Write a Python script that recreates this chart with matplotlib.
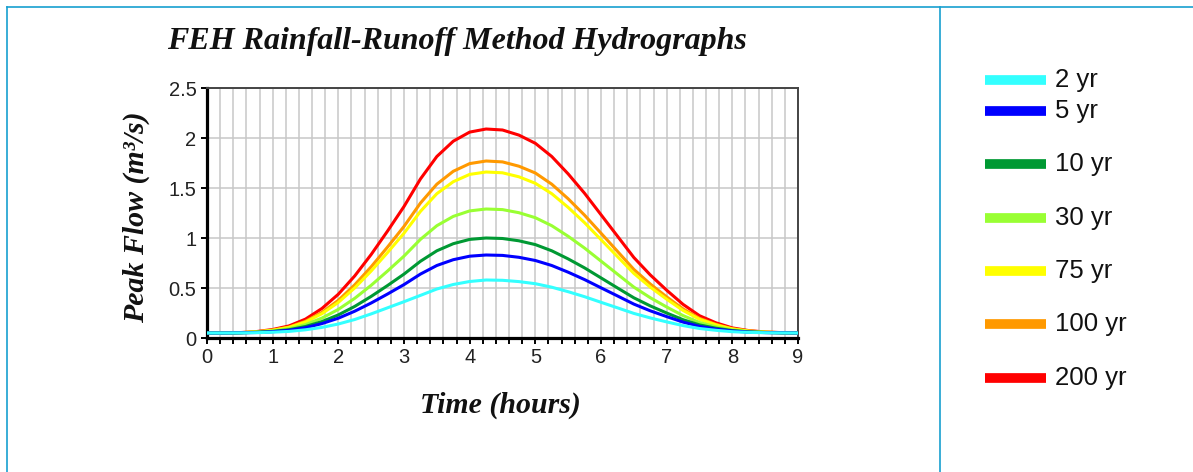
import matplotlib
matplotlib.use("Agg")
from matplotlib import pyplot as plt
from matplotlib.lines import Line2D
from matplotlib.ticker import MultipleLocator

# hours, every quarter hour
hours = [0, 0.25, 0.5, 0.75, 1, 1.25, 1.5, 1.75, 2, 2.25, 2.5, 2.75, 3, 3.25, 3.5, 3.75,
         4, 4.25, 4.5, 4.75, 5, 5.25, 5.5, 5.75, 6, 6.25, 6.5, 6.75, 7, 7.25, 7.5, 7.75,
         8, 8.25, 8.5, 8.75, 9]

flow_2yr = [0.05, 0.05, 0.051, 0.053, 0.058, 0.066, 0.082, 0.106, 0.140, 0.185, 0.241, 0.302,
            0.363, 0.426, 0.490, 0.535, 0.565, 0.580, 0.577, 0.564, 0.543, 0.508, 0.463, 0.413,
            0.357, 0.302, 0.246, 0.201, 0.161, 0.124, 0.095, 0.077, 0.063, 0.056, 0.053, 0.051, 0.05]
flow_5yr = [0.05, 0.05, 0.052, 0.055, 0.063, 0.077, 0.103, 0.144, 0.198, 0.268, 0.350, 0.440,
            0.534, 0.639, 0.725, 0.783, 0.818, 0.830, 0.826, 0.807, 0.775, 0.725, 0.658, 0.584,
            0.502, 0.421, 0.339, 0.272, 0.214, 0.159, 0.116, 0.089, 0.070, 0.059, 0.054, 0.052, 0.05]
flow_10yr = [0.05, 0.05, 0.052, 0.057, 0.066, 0.083, 0.115, 0.164, 0.231, 0.316, 0.416, 0.525,
             0.639, 0.767, 0.872, 0.943, 0.986, 1.000, 0.995, 0.972, 0.934, 0.872, 0.791, 0.701,
             0.601, 0.501, 0.402, 0.321, 0.250, 0.183, 0.131, 0.098, 0.074, 0.061, 0.055, 0.052, 0.05]
flow_30yr = [0.05, 0.05, 0.052, 0.059, 0.071, 0.093, 0.134, 0.199, 0.286, 0.397, 0.527, 0.670,
             0.819, 0.986, 1.123, 1.216, 1.271, 1.290, 1.284, 1.253, 1.203, 1.123, 1.017, 0.899,
             0.769, 0.639, 0.509, 0.403, 0.310, 0.224, 0.155, 0.112, 0.081, 0.065, 0.056, 0.052, 0.05]
flow_75yr = [0.05, 0.05, 0.053, 0.061, 0.077, 0.106, 0.159, 0.243, 0.356, 0.501, 0.670, 0.855,
             1.048, 1.266, 1.443, 1.563, 1.636, 1.660, 1.652, 1.612, 1.547, 1.443, 1.306, 1.153,
             0.984, 0.815, 0.646, 0.509, 0.388, 0.275, 0.187, 0.131, 0.090, 0.069, 0.058, 0.053, 0.05]
flow_100yr = [0.05, 0.05, 0.053, 0.062, 0.079, 0.110, 0.167, 0.256, 0.377, 0.532, 0.712, 0.910,
              1.116, 1.349, 1.538, 1.667, 1.744, 1.770, 1.761, 1.718, 1.650, 1.538, 1.392, 1.228,
              1.048, 0.867, 0.686, 0.540, 0.411, 0.291, 0.196, 0.136, 0.093, 0.071, 0.059, 0.053, 0.05]
flow_200yr = [0.05, 0.05, 0.054, 0.064, 0.085, 0.121, 0.189, 0.295, 0.438, 0.621, 0.835, 1.070,
              1.315, 1.590, 1.815, 1.968, 2.059, 2.090, 2.080, 2.029, 1.947, 1.815, 1.641, 1.447,
              1.233, 1.019, 0.805, 0.631, 0.478, 0.336, 0.223, 0.152, 0.101, 0.074, 0.060, 0.054, 0.05]

labels = ["2 yr", "5 yr", "10 yr", "30 yr", "75 yr", "100 yr", "200 yr"]
colors = ["#33ffff", "#0000ff", "#009933", "#99ff33", "#ffff00", "#ff9900", "#ff0000"]
series = [flow_2yr, flow_5yr, flow_10yr, flow_30yr, flow_75yr, flow_100yr, flow_200yr]

y_ticks = [0, 0.5, 1, 1.5, 2, 2.5]
y_ticklabels = ["0", "0.5", "1", "1.5", "2", "2.5"]
x_ticks = list(range(10))

W, H = 1193, 472
fig = plt.figure(figsize=(W / 100, H / 100), dpi=100)

# plot area in pixels: x 207..798, y 88..338
ax = fig.add_axes([207 / W, (H - 338) / H, 591 / W, 250 / H])

# draw largest first so the small events sit on top along the baseflow
for vals, c in reversed(list(zip(series, colors))):
    ax.plot(hours, vals, color=c, lw=2.2, solid_capstyle="round", zorder=3)

ax.set_xlim(0, 9)
ax.set_ylim(0, 2.5)
ax.set_xticks(x_ticks)
ax.set_xticklabels([str(t) for t in x_ticks])
ax.xaxis.set_minor_locator(MultipleLocator(0.2))
ax.set_yticks(y_ticks)
ax.set_yticklabels(y_ticklabels)

ax.grid(which="both", axis="x", color="#c8c8c8", lw=1.1, zorder=0)
ax.grid(which="major", axis="y", color="#c8c8c8", lw=1.1, zorder=0)
ax.set_axisbelow(True)

for side in ["left", "bottom"]:
    ax.spines[side].set_linewidth(2.3)
    ax.spines[side].set_color("black")
for side in ["top", "right"]:
    ax.spines[side].set_linewidth(1.4)
    ax.spines[side].set_color("#444444")

ax.tick_params(axis="both", which="both", direction="out", length=4.5, width=1.4,
               color="black", labelcolor="#222222", pad=3)
for lab in ax.get_xticklabels() + ax.get_yticklabels():
    lab.set_fontfamily("Liberation Sans")
    lab.set_fontsize(14.5)

serif = {"family": "Liberation Serif", "style": "italic", "weight": "bold"}
ax.text(0.423, 1.184, "FEH Rainfall-Runoff Method Hydrographs", transform=ax.transAxes,
        ha="center", va="center", fontsize=23, color="#111111", **serif)
ax.set_ylabel("Peak Flow (m³/s)", fontsize=21.5, va="center", color="#111111", **serif)
ax.yaxis.set_label_coords(-0.120, 0.484)
ax.set_xlabel("Time (hours)", fontsize=21.5, va="center", color="#111111", **serif)
ax.xaxis.set_label_coords(0.497, -0.268)

# legend column on the right, rows spaced like the reference
leg_rows = [80, 111, 164, 218, 271, 324, 378]
for lab, c, yp in zip(labels, colors, leg_rows):
    yf = 1 - yp / H
    fig.add_artist(Line2D([985 / W, 1046 / W], [yf, yf], color=c, lw=7,
                          solid_capstyle="butt", transform=fig.transFigure))
    fig.text(1055 / W, yf, lab, ha="left", va="center", fontsize=18.5,
             family="Liberation Sans", color="#111111")

# blue page frame
frame_c = "#18a0d0"
fig.add_artist(Line2D([7 / W, 1], [1 - 7 / H, 1 - 7 / H], color=frame_c, lw=1.2,
                      transform=fig.transFigure))
fig.add_artist(Line2D([7 / W, 7 / W], [0, 1 - 7 / H], color=frame_c, lw=1.2,
                      transform=fig.transFigure))
fig.add_artist(Line2D([940 / W, 940 / W], [0, 1 - 7 / H], color=frame_c, lw=1.2,
                      transform=fig.transFigure))

fig.savefig("out.png", dpi=100)
